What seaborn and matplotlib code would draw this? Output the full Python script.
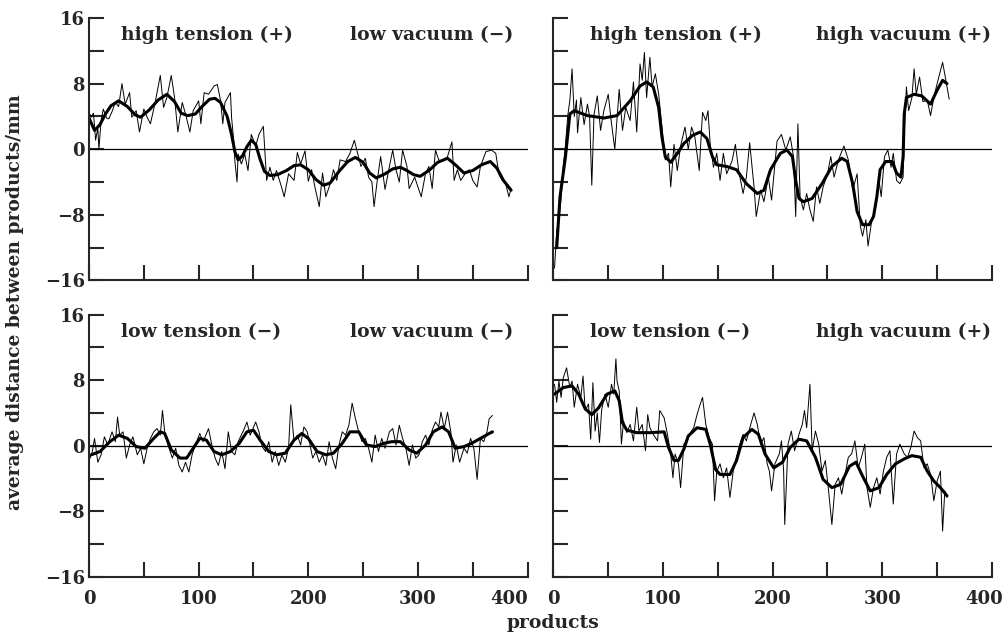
import numpy as np
import pandas as pd
import seaborn as sns
import matplotlib.pyplot as plt
from matplotlib.transforms import ScaledTranslation

# panel labels
left_labels = ["high tension (+)", "high tension (+)", "low tension (\u2212)", "low tension (\u2212)"]
right_labels = ["low vacuum (\u2212)", "high vacuum (+)", "low vacuum (\u2212)", "high vacuum (+)"]

# top left: high tension / low vacuum
tl_x = [0, 2, 4, 6, 8, 9, 11, 13, 16, 18, 21, 24, 27, 30, 33, 37, 39, 43, 46, 50,
        53, 56, 60, 65, 68, 71, 75, 78, 81, 85, 88, 92, 95, 100, 102, 105, 109, 114, 117, 120,
        122, 124, 129, 130, 132, 133, 135, 136, 139, 142, 145, 148, 152, 155, 159, 162, 165, 168, 171, 176,
        178, 182, 187, 190, 193, 197, 200, 203, 206, 210, 213, 216, 220, 223, 226, 229, 234, 238, 242, 245,
        248, 252, 255, 258, 260, 263, 266, 270, 274, 277, 280, 283, 286, 290, 292, 297, 300, 303, 307, 310,
        313, 316, 319, 322, 327, 331, 333, 336, 339, 344, 347, 350, 354, 357, 362, 367, 371, 374, 377, 380,
        383, 385]
tl_y = [4.5, 3.9, 4.4, 1.1, 2.6, 0.0, 3.5, 4.9, 3.8, 3.7, 4.6, 5.7, 5.2, 8.0, 5.5, 6.9, 3.9, 4.7, 2.1, 4.9,
        3.9, 3.1, 5.5, 9.0, 5.1, 6.3, 9.0, 6.3, 2.1, 5.7, 4.3, 2.1, 4.7, 5.9, 3.1, 6.9, 6.7, 7.7, 7.9, 5.9,
        3.1, 5.7, 6.9, 3.9, 1.0, -1.4, -4.0, -0.6, -1.8, -0.6, -2.6, 1.8, 0.4, 1.8, 2.8, -3.8, -2.2, -3.8, -2.6, -4.8,
        -5.8, -3.0, -3.8, -0.4, -1.8, -0.2, -3.9, -2.5, -4.6, -7.0, -2.9, -5.8, -4.2, -2.5, -3.8, -1.3, -1.5, -0.5, 1.1, -0.5,
        -2.1, -1.1, -3.4, -4.0, -7.0, -3.7, -0.9, -4.9, -2.1, -0.1, -2.5, -4.0, -0.1, -2.1, -4.8, -3.4, -4.6, -5.8, -2.9, -2.1,
        -4.8, -0.1, -1.3, -1.5, -0.9, 0.9, -3.8, -2.5, -3.8, -2.8, -2.5, -3.8, -4.6, -2.1, -0.3, -0.1, -0.5, -3.1, -3.8, -4.2,
        -5.8, -4.8]
tl_sx = [0, 5, 10, 15, 20, 27, 35, 42, 47, 55, 63, 71, 78, 84, 90, 97, 103, 110, 115, 120,
         126, 130, 133, 136, 140, 144, 148, 152, 156, 160, 165, 172, 180, 187, 193, 200, 207, 214, 220, 228,
         236, 243, 250, 256, 262, 270, 277, 284, 290, 296, 302, 310, 318, 327, 335, 342, 350, 358, 366, 372,
         378, 385]
tl_sy = [3.8, 2.3, 3.0, 4.3, 5.3, 5.9, 5.2, 4.2, 3.9, 4.8, 6.0, 6.7, 5.8, 4.4, 4.1, 4.3, 5.2, 6.1, 6.2, 5.7,
         4.0, 1.8, -0.3, -1.3, -0.8, 0.3, 1.1, 0.6, -1.2, -2.7, -3.2, -3.1, -2.6, -2.0, -1.9, -2.5, -3.7, -4.4, -4.1, -2.7,
         -1.5, -1.0, -1.6, -2.9, -3.5, -3.0, -2.4, -2.2, -2.6, -3.1, -3.3, -2.6, -1.6, -1.1, -2.0, -2.9, -2.6, -1.9, -1.5, -2.3,
         -3.8, -5.0]

# top right: high tension / high vacuum
tr_x = [1, 3, 5, 7, 9, 11, 13, 15, 17, 19, 21, 22, 25, 28, 31, 33, 35, 37, 40, 43,
        46, 50, 53, 56, 60, 63, 66, 70, 73, 76, 79, 81, 83, 85, 88, 90, 93, 96, 99, 102,
        105, 107, 110, 113, 116, 120, 123, 126, 129, 133, 136, 139, 141, 143, 146, 149, 152, 155, 158, 163,
        166, 169, 173, 176, 179, 183, 185, 189, 192, 196, 199, 204, 208, 212, 216, 219, 221, 223, 225, 228,
        231, 234, 237, 240, 243, 246, 250, 253, 256, 260, 265, 269, 273, 277, 280, 282, 285, 287, 290, 294,
        297, 299, 302, 305, 308, 310, 313, 316, 319, 320, 322, 324, 327, 329, 331, 334, 337, 341, 344, 347,
        350, 355, 358, 361]
tr_y = [-14.5, -10.0, -8.5, -6.0, -2.0, 0.5, 4.0, 6.0, 9.8, 4.0, 6.0, 2.0, 6.3, 3.0, 5.5, 4.0, -4.4, 4.2, 6.5, 2.3,
        4.7, 6.7, 3.1, 0.0, 7.3, 2.3, 5.1, 3.5, 8.2, 2.1, 10.4, 8.4, 11.8, 6.3, 11.2, 7.6, 9.2, 6.7, 2.7, -1.3,
        -0.5, -4.6, 0.6, -2.6, 0.4, 2.7, 0.0, 2.7, 1.5, -2.6, 4.5, 3.5, 4.7, 0.6, -2.2, -0.5, -3.8, -0.5, -3.0, -1.4,
        0.6, -2.6, -5.4, -3.4, 0.8, -4.6, -8.2, -5.0, -6.4, -3.4, -6.2, 1.0, 1.8, -0.1, 1.5, -0.9, -8.2, 3.1, -5.8, -7.4,
        -5.4, -7.4, -8.8, -4.6, -6.6, -4.6, -3.0, -0.9, -3.4, -1.3, 0.4, -1.3, -5.0, -3.0, -9.4, -10.6, -8.6, -11.8, -9.0, -7.0,
        -3.8, -5.8, -0.9, -0.1, -2.2, -0.5, -3.8, -4.2, -3.4, 2.3, 7.6, 4.7, 6.3, 9.8, 6.7, 8.8, 5.8, 6.0, 4.1, 6.3,
        8.0, 10.6, 8.4, 6.1]
tr_sx = [3, 6, 11, 15, 19, 31, 46, 58, 70, 79, 85, 91, 96, 99, 102, 107, 113, 119, 127, 134,
         140, 145, 149, 158, 167, 176, 186, 192, 198, 207, 213, 218, 221, 224, 228, 236, 245, 254, 263, 268,
         273, 277, 282, 288, 292, 295, 298, 303, 309, 313, 317, 319, 320, 322, 329, 336, 344, 350, 355, 359]
tr_sy = [-12.0, -5.8, -0.9, 4.3, 4.7, 4.1, 3.8, 4.1, 5.9, 7.7, 8.2, 7.6, 5.1, 1.5, -0.9, -1.6, -0.5, 0.7, 1.7, 2.1,
         1.3, -0.9, -1.9, -2.1, -2.5, -4.2, -5.4, -5.0, -2.5, -0.5, -0.1, -0.9, -3.8, -6.0, -6.4, -6.0, -4.2, -2.1, -1.1, -1.5,
         -4.2, -7.6, -9.2, -9.2, -8.2, -5.8, -2.5, -1.5, -1.5, -2.9, -3.4, -0.9, 4.3, 6.3, 6.7, 6.5, 5.5, 7.2, 8.4, 8.0]

# bottom left: low tension / low vacuum
bl_x = [1, 3, 5, 8, 11, 14, 17, 21, 24, 26, 28, 31, 34, 37, 40, 44, 47, 50, 53, 56,
        59, 62, 65, 67, 69, 72, 76, 79, 82, 85, 88, 91, 94, 97, 101, 104, 109, 112, 115, 118,
        121, 124, 127, 130, 133, 136, 141, 144, 147, 152, 155, 158, 161, 164, 167, 170, 173, 176, 179, 182,
        184, 187, 190, 193, 196, 199, 201, 204, 207, 210, 213, 216, 219, 222, 225, 228, 231, 234, 237, 240,
        243, 246, 249, 252, 255, 258, 261, 264, 267, 270, 274, 277, 280, 283, 286, 289, 292, 295, 298, 301,
        304, 307, 310, 313, 316, 319, 321, 324, 327, 330, 332, 335, 338, 342, 345, 348, 351, 354, 357, 360,
        363, 365, 368]
bl_y = [-1.5, -0.7, 0.9, -2.0, -1.1, 1.1, 0.1, 1.7, 0.5, 3.5, 1.3, 1.7, -1.5, 0.1, 1.1, -1.1, -0.3, -2.2, -0.3, 0.9,
        1.7, 2.1, 1.3, 4.3, 1.7, 0.1, -1.5, -0.3, -2.4, -3.2, -2.0, -3.2, -1.1, 0.1, 1.5, 0.5, 2.1, 0.1, -1.5, -2.4,
        -0.7, -2.8, 1.7, -0.7, -1.1, 0.5, 1.9, 2.9, 1.3, 2.9, 1.7, -0.1, -0.7, 0.5, -2.0, -0.7, -2.4, -1.1, -2.0, -0.3,
        5.0, 0.5, 1.3, 0.1, 2.3, 1.7, 0.5, -1.5, -0.7, -2.0, -1.1, -2.4, 0.5, -1.5, -2.8, 0.1, 1.7, 1.3, 2.5, 5.2,
        3.3, 1.7, 0.5, 0.9, -0.3, -2.0, 1.3, -0.7, 0.9, -0.3, 1.7, 2.1, 0.1, 2.5, 0.9, -0.3, -2.4, 0.1, -1.5, -1.1,
        0.5, 1.3, 0.1, 1.9, 2.9, 2.3, 4.1, 2.1, 4.1, 1.7, -2.0, 0.1, -2.0, -0.3, -0.9, 0.9, -0.3, -4.1, 0.9, 0.5,
        1.7, 3.3, 3.7]
bl_sx = [2, 10, 19, 27, 35, 43, 51, 59, 65, 69, 75, 83, 89, 95, 101, 107, 114, 121, 129, 137,
         144, 150, 156, 164, 171, 179, 187, 194, 200, 208, 216, 223, 231, 238, 246, 253, 261, 269, 276, 284,
         292, 299, 307, 314, 322, 328, 334, 342, 349, 357, 365, 368]
bl_sy = [-1.1, -0.7, 0.5, 1.3, 0.9, -0.1, -0.3, 0.9, 1.7, 1.5, -0.5, -1.5, -1.5, -0.3, 0.9, 0.7, -0.7, -1.1, -0.7, 0.3,
         1.7, 1.9, 0.7, -0.7, -1.1, -0.9, 0.7, 1.5, 0.9, -0.7, -1.1, -0.9, 0.3, 1.7, 1.7, 0.1, -0.1, 0.3, 0.5, 0.5,
         -0.5, -0.9, 0.1, 1.7, 2.3, 1.7, -0.3, -0.1, 0.3, 0.9, 1.5, 1.7]

# bottom right: low tension / high vacuum
br_x = [1, 3, 5, 7, 9, 12, 15, 17, 19, 22, 25, 27, 29, 32, 34, 36, 38, 40, 42, 44,
        47, 50, 53, 55, 57, 58, 60, 62, 64, 67, 70, 73, 76, 78, 81, 84, 86, 88, 91, 95,
        97, 101, 104, 107, 109, 111, 114, 116, 119, 122, 125, 128, 131, 133, 136, 139, 142, 145, 147, 149,
        152, 155, 158, 161, 164, 167, 170, 173, 176, 180, 183, 186, 189, 192, 195, 197, 199, 202, 206, 208,
        210, 211, 214, 217, 220, 224, 227, 229, 231, 234, 236, 239, 242, 245, 248, 251, 254, 257, 260, 263,
        266, 269, 272, 275, 278, 281, 284, 286, 289, 292, 295, 298, 301, 304, 307, 310, 313, 316, 320, 323,
        326, 329, 332, 335, 338, 341, 344, 347, 350, 353, 355, 357, 359]
br_y = [7.5, 5.3, 7.9, 5.9, 8.3, 9.5, 7.1, 7.9, 4.7, 7.5, 5.9, 8.5, 4.3, 5.1, 0.8, 7.7, 1.8, 4.0, 0.4, 4.4,
        6.3, 4.7, 7.5, 6.3, 10.6, 7.9, 6.7, 0.2, 3.0, 1.6, 2.6, 0.6, 4.7, 1.8, 2.6, -0.6, 3.8, 2.2, 1.4, 0.6,
        4.3, 3.4, 1.4, -1.0, -3.9, -1.0, -2.2, -5.1, 0.2, 0.6, 1.6, 2.2, 3.8, 4.7, 5.9, 2.6, 1.0, 0.2, -6.7, -3.1,
        -2.2, -3.9, -2.7, -6.3, -3.1, -1.4, 0.2, 1.4, 0.6, 2.6, 4.0, 2.6, 0.2, 1.0, -2.2, -3.1, -5.5, -2.2, -1.0, 0.6,
        -3.1, -9.6, 0.2, 1.8, -0.6, 1.4, 2.6, 4.3, 2.2, 7.5, -0.6, 1.8, 0.2, -3.1, -1.8, -5.5, -9.6, -4.7, -3.9, -5.9,
        -3.5, -1.4, -1.0, 0.6, -2.7, -1.4, 0.2, -5.1, -7.5, -5.1, -3.9, -5.9, -3.1, -1.4, -0.6, -7.1, -1.0, 0.2, -1.0, -1.4,
        -0.2, 1.8, 1.0, 0.6, -2.7, -2.2, -3.5, -6.7, -4.3, -3.1, -10.4, -5.5, -6.3]
br_sx = [1, 9, 17, 23, 29, 35, 41, 49, 56, 60, 63, 67, 76, 88, 101, 105, 110, 114, 119, 123,
         131, 139, 143, 148, 152, 161, 167, 173, 181, 187, 193, 201, 209, 216, 224, 231, 239, 246, 254, 262,
         270, 276, 282, 289, 297, 304, 312, 320, 327, 335, 341, 347, 353, 359]
br_sy = [6.3, 7.1, 7.3, 6.3, 4.5, 3.8, 4.6, 6.3, 6.7, 5.5, 2.8, 1.9, 1.6, 1.6, 1.7, -0.2, -1.8, -1.8, -0.4, 1.2,
         2.2, 2.0, 0.2, -2.9, -3.5, -3.5, -1.8, 1.0, 2.0, 1.4, -1.0, -2.7, -2.0, -0.2, 0.8, 0.6, -1.4, -4.1, -5.1, -4.7,
         -2.5, -2.0, -3.7, -5.5, -5.1, -3.5, -2.2, -1.6, -1.2, -1.4, -3.1, -4.3, -5.1, -6.1]

raw = [(tl_x, tl_y), (tr_x, tr_y), (bl_x, bl_y), (br_x, br_y)]
smooth = [(tl_sx, tl_sy), (tr_sx, tr_sy), (bl_sx, bl_sy), (br_sx, br_sy)]

sns.set_style("ticks")
plt.rcParams["font.family"] = ["DejaVu Serif"]
plt.rcParams["font.weight"] = "bold"
plt.rcParams["axes.unicode_minus"] = True

fig, axes = plt.subplots(2, 2, figsize=(10.05, 6.34), dpi=100, sharex=True, sharey=True)
fig.subplots_adjust(left=0.0886, right=0.987, top=0.9716, bottom=0.0899, wspace=0.059, hspace=0.13)

for i, ax in enumerate(axes.flat):
    ax.axhline(0, color="black", lw=0.9, zorder=1)
    sns.lineplot(x=raw[i][0], y=raw[i][1], ax=ax, color="black", lw=0.7, estimator=None)
    sns.lineplot(x=smooth[i][0], y=smooth[i][1], ax=ax, color="black", lw=2.2, estimator=None)

    ax.set_xlim(0, 400)
    ax.set_ylim(-16, 16)
    ax.set_xticks([0, 100, 200, 300, 400])
    ax.set_xticks([50, 150, 250, 350], minor=True)
    ax.set_yticks([-16, -8, 0, 8, 16])
    ax.set_yticks([-12, -4, 4, 12], minor=True)
    ax.tick_params(which="both", direction="in", length=11, width=1.5, labelsize=13)
    ax.tick_params(axis="x", pad=9)
    ax.tick_params(axis="y", pad=3)
    for s in ["top", "right"]:
        ax.spines[s].set_visible(False)
    for s in ["left", "bottom"]:
        ax.spines[s].set_linewidth(1.5)
    ax.set_xlabel("")
    ax.set_ylabel("")

    lx = 0.073 if i % 2 == 0 else 0.084
    rx = 0.968 if i % 2 == 0 else 0.997
    ax.text(lx, 0.935, left_labels[i], transform=ax.transAxes, ha="left", va="center",
            fontsize=13.5, fontweight="bold")
    ax.text(rx, 0.935, right_labels[i], transform=ax.transAxes, ha="right", va="center",
            fontsize=13.5, fontweight="bold")

# 400 of the left panel sits to the left of its tick, the right one a bit left too
axes[1, 0].get_xticklabels()[-1].set_ha("right")
lab = axes[1, 1].get_xticklabels()[-1]
lab.set_transform(lab.get_transform() + ScaledTranslation(-0.08, 0, fig.dpi_scale_trans))

fig.text(0.55, 0.018, "products", ha="center", va="center", fontsize=13.5, fontweight="bold")
fig.text(0.015, 0.524, "average distance between products/mm", rotation=90,
         ha="center", va="center", fontsize=13.5, fontweight="bold")

plt.savefig("out.png", dpi=100, facecolor="white")
